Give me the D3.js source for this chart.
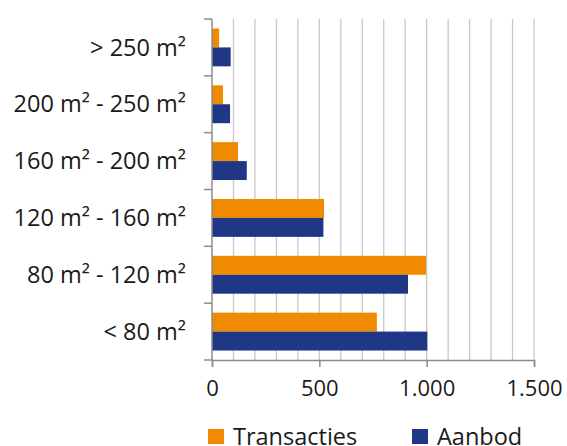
<!DOCTYPE html>
<html>
<head>
<meta charset="utf-8">
<script src="https://cdn.jsdelivr.net/npm/d3@7"></script>
<style>
  body { margin: 0; background: #fff; }
  svg text { font-family: "Open Sans", sans-serif; fill: #1a1a1a; }
</style>
</head>
<body>
<div id="chart"></div>
<script>
const categories = ["> 250 m²", "200 m² - 250 m²", "160 m² - 200 m²", "120 m² - 160 m²", "80 m² - 120 m²", "< 80 m²"]
const transacties = [33, 51, 121, 522, 997, 768]
const aanbod = [87, 84, 162, 519, 913, 1003]
const seriesNames = ["Transacties", "Aanbod"]
const xTicks = [0, 500, 1000, 1500]

const W = 567, H = 446
var margin = {top: 19, right: 33, bottom: 86, left: 212},
  width = W - margin.left - margin.right,
  height = H - margin.top - margin.bottom
const colors = ["#f08a00", "#1f3784"]

var svg = d3.select("#chart").append("svg")
  .attr("width", W)
  .attr("height", H)
var g = svg.append("g")
  .attr("transform", "translate(" + margin.left + "," + margin.top + ")")

var xScale = d3.scaleLinear().domain([0, 1500]).range([0, width])
var yScale = d3.scaleBand().domain(categories).range([0, height]).paddingInner(1/3).paddingOuter(1/6)
var inner = d3.scaleBand().domain(seriesNames).range([0, yScale.bandwidth()])

// gridlines every 100
g.append("g")
  .selectAll("line")
  .data(d3.range(100, 1501, 100))
  .join("line")
  .attr("x1", d => xScale(d)).attr("x2", d => xScale(d))
  .attr("y1", 0).attr("y2", height)
  .attr("stroke", "#c8c8c8")
  .attr("stroke-width", 1.3)

var rows = categories.map((c, i) => ({cat: c, vals: [transacties[i], aanbod[i]]}))
g.append("g")
  .selectAll("g")
  .data(rows)
  .join("g")
  .attr("transform", d => "translate(0," + yScale(d.cat) + ")")
  .selectAll("rect")
  .data(d => d.vals.map((v, j) => ({name: seriesNames[j], v: v, j: j})))
  .join("rect")
  .attr("x", xScale(0))
  .attr("y", d => inner(d.name))
  .attr("width", d => xScale(d.v) - xScale(0))
  .attr("height", inner.bandwidth())
  .attr("fill", d => colors[d.j])

// x axis
var xAxis = g.append("g")
  .attr("transform", "translate(0," + height + ")")
  .call(d3.axisBottom(xScale).tickValues(xTicks).tickSize(7).tickPadding(13)
    .tickFormat(d => d3.format(",")(d).replace(/,/g, ".")))
xAxis.selectAll("text").style("font-size", "22px")
xAxis.selectAll("line, path").attr("stroke", "#8c8c8c").attr("stroke-width", 1.5)

// y axis with boundary ticks
var yAxis = g.append("g")
yAxis.append("line")
  .attr("x1", 0).attr("x2", 0).attr("y1", 0).attr("y2", height)
  .attr("stroke", "#8c8c8c").attr("stroke-width", 1.5)
var bounds = categories.map(c => yScale(c) - yScale.step() * yScale.paddingInner() / 2)
bounds.push(height)
yAxis.selectAll(".tk")
  .data(bounds)
  .join("line")
  .attr("class", "tk")
  .attr("x1", -8).attr("x2", 0)
  .attr("y1", d => d).attr("y2", d => d)
  .attr("stroke", "#8c8c8c").attr("stroke-width", 1.5)
yAxis.selectAll("text")
  .data(categories)
  .join("text")
  .attr("x", -26)
  .attr("y", d => yScale(d) + yScale.bandwidth() / 2)
  .attr("dy", "0.35em")
  .attr("text-anchor", "end")
  .style("font-size", "23.5px")
  .text(d => d)

// legend
var legendX = [208, 412]
var legend = svg.append("g")
  .selectAll("g")
  .data(seriesNames)
  .join("g")
  .attr("transform", (d, i) => "translate(" + legendX[i] + ",429)")
legend.append("rect")
  .attr("width", 16).attr("height", 15)
  .attr("fill", (d, i) => colors[i])
legend.append("text")
  .attr("x", 25).attr("y", 8)
  .attr("dy", "0.35em")
  .style("font-size", "23.5px")
  .text(d => d)
</script>
</body>
</html>
